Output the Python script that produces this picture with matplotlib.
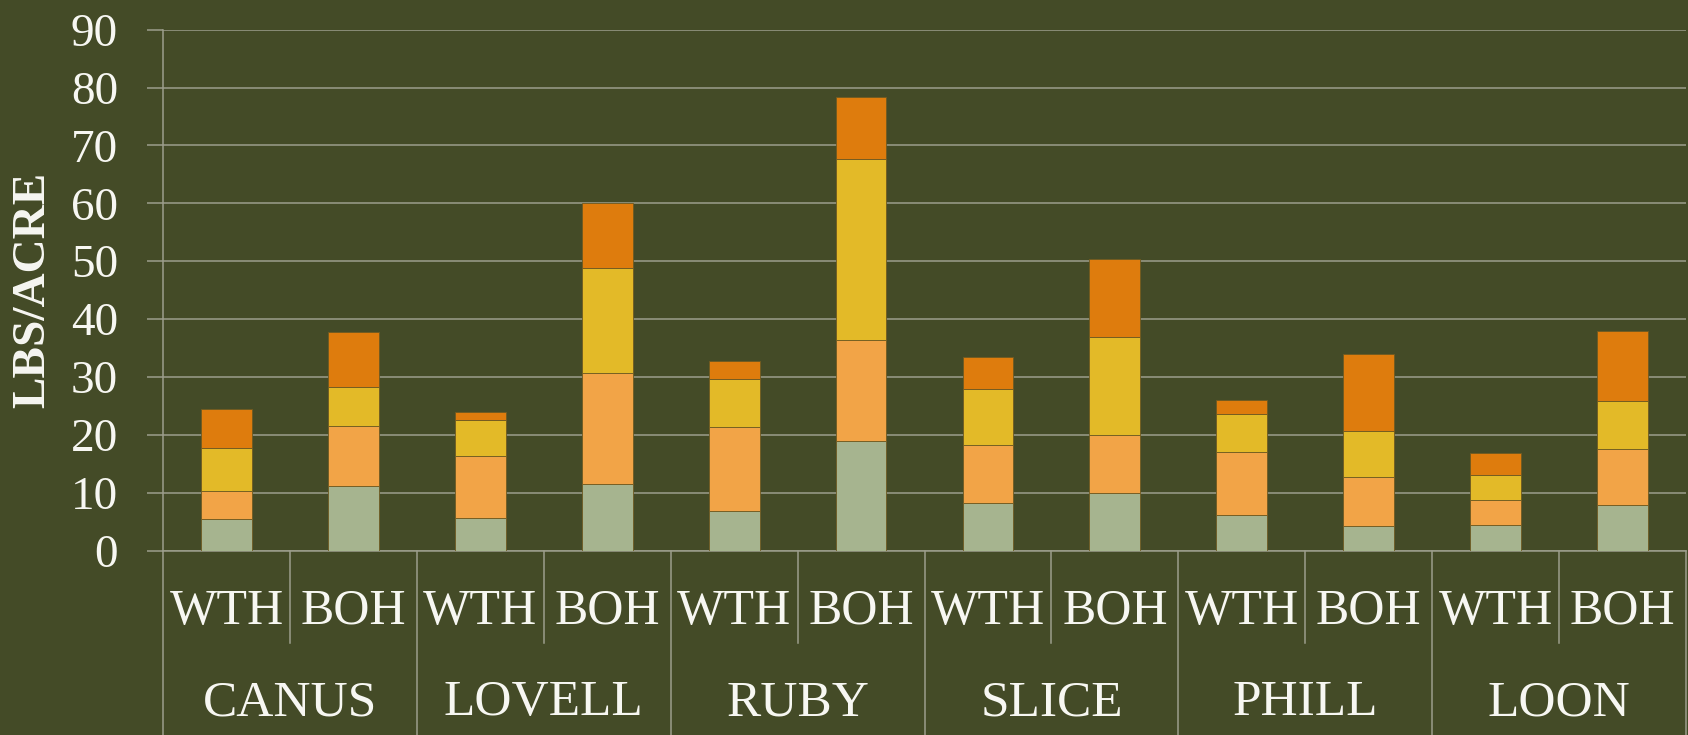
import numpy as np
import matplotlib.pyplot as plt
from matplotlib import transforms

# data ------------------------------------------------------------------
groups = ['CANUS', 'LOVELL', 'RUBY', 'SLICE', 'PHILL', 'LOON']
treatments = ['WTH', 'BOH']

layer1 = [5.4, 11.2, 5.7, 11.5, 6.8, 18.9, 8.3, 9.9, 6.1, 4.3, 4.5, 7.9]
layer2 = [4.9, 10.4, 10.6, 19.2, 14.6, 17.4, 10.0, 10.0, 10.9, 8.4, 4.2, 9.7]
layer3 = [7.5, 6.7, 6.3, 18.1, 8.2, 31.4, 9.7, 17.0, 6.6, 8.0, 4.3, 8.2]
layer4 = [6.7, 9.4, 1.3, 11.2, 3.2, 10.7, 5.5, 13.5, 2.4, 13.3, 3.9, 12.1]

yticks = [0, 10, 20, 30, 40, 50, 60, 70, 80, 90]

# style -----------------------------------------------------------------
bg = '#444b27'
grid_c = '#9c9e8c'
txt_c = '#f7f7f2'
colors = ['#a6b48f', '#f2a447', '#e3ba28', '#de7c0d']
font = 'Liberation Serif'

fig = plt.figure(figsize=(16.88, 7.35), dpi=100, facecolor=bg)
ax = fig.add_axes([0.0966, 0.2509, 0.9022, 0.7087])
ax.set_facecolor(bg)

x = np.arange(len(layer1))
bottom = np.zeros(len(x))
for vals, c in zip([layer1, layer2, layer3, layer4], colors):
    ax.bar(x, vals, width=0.4, bottom=bottom, color=c,
           edgecolor='#6e5a22', linewidth=0.6, zorder=3)
    bottom += np.array(vals)

ax.set_xlim(-0.5, len(x) - 0.5)
ax.set_ylim(0, 90)
ax.set_yticks(yticks)
ax.set_yticklabels([str(t) for t in yticks], fontfamily=font, fontsize=34, color=txt_c)
ax.tick_params(axis='y', length=11.5, width=1.1, color=grid_c, pad=21)
ax.set_xticks([])
ax.yaxis.grid(True, color=grid_c, linewidth=1.1, zorder=0)

for s in ['top', 'right']:
    ax.spines[s].set_visible(False)
ax.spines['left'].set_color(grid_c)
ax.spines['left'].set_linewidth(1.1)
ax.spines['bottom'].set_color(grid_c)
ax.spines['bottom'].set_linewidth(1.1)

fig.text(33 / 1688, ax.get_position().y0 + ax.get_position().height / 2,
         'LBS/ACRE', rotation=90, ha='center', va='center', fontfamily=font,
         fontweight='bold', fontsize=34, color=txt_c)

# category axis below the bars -------------------------------------------
trans = transforms.blended_transform_factory(ax.transData, ax.transAxes)
n = len(treatments)
for i in range(len(x) + 1):
    xe = i - 0.5
    y_end = -0.36 if i % n == 0 else -0.177
    ax.plot([xe, xe], [0, y_end], transform=trans, color=grid_c,
            linewidth=1.1, clip_on=False)

for i in range(len(x)):
    ax.text(i, -0.117, treatments[i % n], transform=trans, ha='center',
            va='center', fontfamily=font, fontsize=36, color=txt_c)

for g, name in enumerate(groups):
    ax.text(g * n + (n - 1) / 2, -0.293, name, transform=trans, ha='center',
            va='center', fontfamily=font, fontsize=37, color=txt_c)

fig.savefig('out.png', dpi=100, facecolor=bg)
